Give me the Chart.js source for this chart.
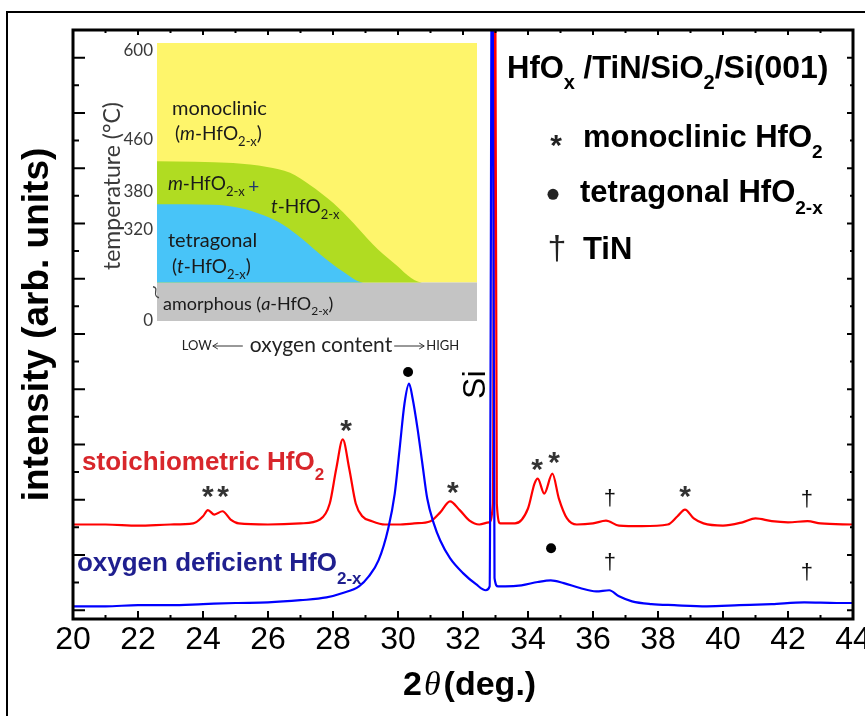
<!DOCTYPE html>
<html>
<head>
<meta charset="utf-8">
<script src="https://cdn.jsdelivr.net/npm/chart.js@4.4.1/dist/chart.umd.min.js"></script>
<style>
html, body { margin: 0; padding: 0; background: #fff; overflow: hidden; width: 865px; height: 716px; }
#wrap { position: relative; width: 865px; height: 716px; overflow: hidden; }
#main { position: absolute; left: 0; top: 0; }
#inset { position: absolute; left: 90px; top: 30px; }
</style>
</head>
<body>
<div id="wrap">
  <canvas id="main" width="880" height="716"></canvas>
  <canvas id="inset" width="400" height="335"></canvas>
</div>
<script>
// XRD scans, 2theta (deg) vs intensity (arb. units, offset traces)
var stoichX = [20, 21, 22, 23, 23.7, 24.0, 24.15, 24.35, 24.6, 24.85, 25.1, 26, 27, 27.6, 27.9, 28.1, 28.3, 28.5, 28.7, 28.9,
  29.2, 29.6, 30, 30.5, 31.0, 31.3, 31.6, 31.9, 32.2, 32.5, 32.8, 32.92, 32.98, 33.04, 33.15, 33.6, 34.0, 34.2, 34.3, 34.5,
  34.75, 34.95, 35.2, 35.5, 36, 36.4, 36.8, 37.5, 38.3, 38.6, 38.83, 39.1, 39.4, 40, 40.6, 41.0, 41.5, 42, 42.6, 43, 44];
var stoichY = [1.55, 1.55, 1.53, 1.55, 1.57, 1.70, 1.81, 1.73, 1.79, 1.64, 1.57, 1.55, 1.57, 1.64, 1.93, 2.56, 3.09, 2.56, 1.93, 1.70,
  1.61, 1.55, 1.55, 1.57, 1.61, 1.77, 1.97, 1.81, 1.62, 1.55, 1.59, 1.93, 14, 1.93, 1.57, 1.57, 1.84, 2.29, 2.38, 2.11,
  2.47, 2.02, 1.66, 1.55, 1.57, 1.62, 1.53, 1.52, 1.55, 1.70, 1.82, 1.66, 1.57, 1.53, 1.59, 1.66, 1.61, 1.59, 1.61, 1.57, 1.55];

var deficientX = [20, 21, 22, 23, 24, 25, 26, 27, 27.8, 28.3, 28.8, 29.1, 29.4, 29.7, 29.9, 30.05, 30.2, 30.34, 30.45, 30.6,
  30.75, 30.9, 31.1, 31.3, 31.6, 32.0, 32.4, 32.7, 32.82, 32.9, 32.97, 33.08, 33.3, 33.8, 34.3, 34.7, 35.1, 35.6, 36.1, 36.5,
  36.8, 37.2, 37.8, 38.5, 39.5, 40.5, 41.5, 42.5, 43.5, 44];
var deficientY = [0.07, 0.07, 0.09, 0.09, 0.11, 0.13, 0.14, 0.18, 0.23, 0.31, 0.43, 0.61, 0.90, 1.48, 2.11, 2.92, 3.74, 4.10, 3.83, 3.29,
  2.65, 2.02, 1.57, 1.26, 0.94, 0.67, 0.47, 0.36, 0.43, 14, 0.58, 0.43, 0.43, 0.45, 0.51, 0.54, 0.49, 0.40, 0.34, 0.36,
  0.25, 0.16, 0.11, 0.09, 0.07, 0.09, 0.11, 0.14, 0.13, 0.13];

// peak markers [2theta, intensity]
var monoMarks = [[24.15, 2.20], [24.62, 2.20], [28.4, 3.38], [31.69, 2.26], [34.28, 2.69], [34.8, 2.80], [38.83, 2.20]];
var tinMarks = [[36.52, 2.02], [42.58, 1.99], [36.52, 0.85], [42.58, 0.67]];
var tetraMarks = [[30.31, 4.31], [34.71, 1.12]];
var siMark = [32.31, 4.08];

// inset phase diagram: oxygen content (0..1) vs temperature
var insetTempTicks = [178, 320, 380, 460, 600];
var insetTempLabels = ['0', '320', '380', '460', '600'];
var amorphousTop = 238;
var insetTop = 611;
var mixedO = [0, 0.238, 0.344, 0.416, 0.478, 0.55, 0.613, 0.675, 0.738, 0.828, 1];
var mixedT = [427, 424, 418, 409, 390, 362, 331, 297, 269, 238, 238];
var tetraO = [0, 0.175, 0.259, 0.331, 0.394, 0.456, 0.519, 0.581, 0.644, 1];
var tetraT = [360, 359, 354, 343, 328, 305, 278, 255, 238, 238];

var SANS = '"Liberation Sans", Arial, sans-serif';
var LATO = 'Lato, "Open Sans", sans-serif';

function toPoints(xs, ys) {
  return xs.map(function (v, i) { return { x: v, y: ys[i] }; });
}

function rich(ctx, parts, x, y) {
  parts.forEach(function (p) {
    ctx.font = p.f;
    ctx.fillText(p.t, x, y + (p.dy || 0));
    x += ctx.measureText(p.t).width + (p.gap || 0);
  });
}

var mainDecor = {
  id: 'mainDecor',
  afterDatasetsDraw: function (chart) {
    var ctx = chart.ctx, a = chart.chartArea;
    var X = function (v) { return chart.scales.x.getPixelForValue(v); };
    var Y = function (v) { return chart.scales.y.getPixelForValue(v); };
    ctx.save();
    ctx.strokeStyle = '#000';

    // outer figure border
    ctx.lineWidth = 2;
    ctx.beginPath();
    ctx.moveTo(7, chart.height); ctx.lineTo(7, 12); ctx.lineTo(chart.width, 12);
    ctx.stroke();

    // inward ticks on all four sides
    ctx.beginPath();
    for (var v = 20; v <= 44; v++) {
      var px = X(v), maj = v % 2 === 0;
      ctx.moveTo(px, a.bottom); ctx.lineTo(px, a.bottom - (maj ? 8 : 4));
      ctx.moveTo(px, a.top); ctx.lineTo(px, a.top + (maj ? 5 : 3));
    }
    for (var w = 0; w <= 10; w += 0.5) {
      var py = Y(w), big = w % 1 === 0;
      ctx.moveTo(a.left, py); ctx.lineTo(a.left + (big ? 12 : 6), py);
      ctx.moveTo(a.right, py); ctx.lineTo(a.right - (big ? 6 : 3), py);
    }
    ctx.stroke();
    ctx.lineWidth = 3;
    ctx.strokeRect(a.left, a.top, a.width, a.height);

    // axis titles
    ctx.fillStyle = '#000';
    ctx.textBaseline = 'alphabetic';
    ctx.save();
    ctx.translate(a.left - 25, (a.top + a.bottom) / 2);
    ctx.rotate(-Math.PI / 2);
    ctx.textAlign = 'center';
    ctx.font = 'bold 37px ' + SANS;
    ctx.fillText('intensity (arb. units)', 0, 0);
    ctx.restore();

    ctx.textAlign = 'left';
    rich(ctx, [
      { t: '2', f: 'bold 34px ' + SANS, gap: 2 },
      { t: '\u03b8', f: 'italic 34px "Liberation Serif", serif', gap: 3 },
      { t: '(deg.)', f: 'bold 34px ' + SANS }
    ], 403, 695);

    // peak markers
    ctx.fillStyle = '#333';
    ctx.textAlign = 'center';
    ctx.font = 'bold 30px ' + SANS;
    monoMarks.forEach(function (m) { ctx.fillText('*', X(m[0]), Y(m[1]) + 17); });
    ctx.fillStyle = '#111';
    ctx.font = '22px ' + SANS;
    tinMarks.forEach(function (m) { ctx.fillText('\u2020', X(m[0]), Y(m[1]) + 6); });
    ctx.fillStyle = '#000';
    tetraMarks.forEach(function (m) {
      ctx.beginPath(); ctx.arc(X(m[0]), Y(m[1]), 5, 0, Math.PI * 2); ctx.fill();
    });

    // Si label (rotated)
    ctx.save();
    ctx.translate(X(siMark[0]) + 11.5, Y(siMark[1]));
    ctx.rotate(-Math.PI / 2);
    ctx.textAlign = 'center';
    ctx.font = '32px ' + SANS;
    ctx.fillText('Si', 0, 0);
    ctx.restore();

    // trace labels
    ctx.textAlign = 'left';
    ctx.fillStyle = '#d8262b';
    rich(ctx, [
      { t: 'stoichiometric HfO', f: 'bold 26px ' + SANS },
      { t: '2', f: 'bold 17px ' + SANS, dy: 10 }
    ], X(20.28), Y(2.53));
    ctx.fillStyle = '#1f1f8f';
    rich(ctx, [
      { t: 'oxygen deficient HfO', f: 'bold 26px ' + SANS },
      { t: '2-x', f: 'bold 17px ' + SANS, dy: 13 }
    ], X(20.12), Y(0.70));

    // key block, top right
    ctx.fillStyle = '#000';
    rich(ctx, [
      { t: 'HfO', f: 'bold 31px ' + SANS },
      { t: 'x', f: 'bold 20px ' + SANS, dy: 11 },
      { t: ' /TiN/SiO', f: 'bold 31px ' + SANS },
      { t: '2', f: 'bold 20px ' + SANS, dy: 11 },
      { t: '/Si(001)', f: 'bold 32px ' + SANS }
    ], X(33.354), Y(9.639));
    ctx.fillStyle = '#222';
    ctx.textAlign = 'center';
    ctx.font = 'bold 30px ' + SANS;
    ctx.fillText('*', X(34.862), Y(8.538) + 17);
    ctx.beginPath(); ctx.arc(X(34.769), Y(7.527), 5.5, 0, Math.PI * 2); ctx.fill();
    ctx.font = '34px ' + SANS;
    ctx.fillText('\u2020', X(34.892), Y(6.516) + 9);
    ctx.fillStyle = '#000';
    ctx.textAlign = 'left';
    rich(ctx, [
      { t: 'monoclinic HfO', f: 'bold 31px ' + SANS },
      { t: '2', f: 'bold 19px ' + SANS, dy: 11 }
    ], X(35.692), Y(8.375));
    rich(ctx, [
      { t: 'tetragonal HfO', f: 'bold 31px ' + SANS },
      { t: '2-x', f: 'bold 19px ' + SANS, dy: 12 }
    ], X(35.6), Y(7.383));
    rich(ctx, [{ t: 'TiN', f: 'bold 31px ' + SANS }], X(35.692), Y(6.354));
    ctx.restore();
  }
};

new Chart(document.getElementById('main'), {
  type: 'line',
  data: {
    datasets: [
      {
        label: 'oxygen deficient HfO2-x',
        data: toPoints(deficientX, deficientY),
        borderColor: '#0000ff',
        borderWidth: 2.2,
        pointRadius: 0,
        cubicInterpolationMode: 'monotone'
      },
      {
        label: 'stoichiometric HfO2',
        data: toPoints(stoichX, stoichY),
        borderColor: '#ff0000',
        borderWidth: 2.2,
        pointRadius: 0,
        cubicInterpolationMode: 'monotone'
      }
    ]
  },
  options: {
    responsive: false,
    animation: false,
    layout: { padding: { left: 73, top: 30, right: 27, bottom: 54.6 } },
    plugins: { legend: { display: false }, tooltip: { enabled: false } },
    scales: {
      x: {
        type: 'linear', min: 20, max: 44,
        grid: { display: false, drawTicks: false },
        border: { display: false },
        ticks: {
          stepSize: 2, autoSkip: false, maxRotation: 0, padding: 2, color: '#000',
          font: { family: SANS, size: 32 },
          callback: function (v) { return String(v); }
        }
      },
      y: { type: 'linear', display: false, min: -0.16, max: 10.5 }
    }
  },
  plugins: [mainDecor]
});

function arrowLine(ctx, x0, x1, y) {
  var dir = x1 > x0 ? 1 : -1;
  ctx.beginPath();
  ctx.moveTo(x0, y); ctx.lineTo(x1, y);
  ctx.moveTo(x1 - dir * 5, y - 3); ctx.lineTo(x1, y); ctx.lineTo(x1 - dir * 5, y + 3);
  ctx.stroke();
}

var insetDecor = {
  id: 'insetDecor',
  afterDatasetsDraw: function (chart) {
    var ctx = chart.ctx, a = chart.chartArea;
    var X = function (v) { return chart.scales.x.getPixelForValue(v); };
    var Y = function (v) { return chart.scales.y.getPixelForValue(v); };
    ctx.save();

    // temperature tick labels
    ctx.fillStyle = '#3a3a3a';
    ctx.font = '17px ' + LATO;
    ctx.textAlign = 'right';
    ctx.textBaseline = 'middle';
    insetTempTicks.forEach(function (t, i) { ctx.fillText(insetTempLabels[i], a.left - 4, Y(t)); });

    // axis break mark
    ctx.strokeStyle = '#444';
    ctx.lineWidth = 1.3;
    ctx.beginPath();
    var bx = a.left - 1, by = Y(222);
    ctx.moveTo(bx - 3, by - 6);
    ctx.bezierCurveTo(bx + 4, by - 5, bx - 5, by + 3, bx + 3, by + 5);
    ctx.stroke();

    // y title
    ctx.save();
    ctx.translate(a.left - 44, (a.top + a.bottom) / 2 + 4);
    ctx.rotate(-Math.PI / 2);
    ctx.textAlign = 'center';
    ctx.font = '23px ' + LATO;
    ctx.fillText('temperature (\u00b0C)', 0, 0);
    ctx.restore();

    // x title
    var cx = (a.left + a.right) / 2 + 4, ty = a.bottom + 24;
    ctx.font = '21px ' + LATO;
    var tw = ctx.measureText('oxygen content').width;
    var tx0 = cx - tw / 2;
    ctx.textAlign = 'left';
    ctx.fillStyle = '#222';
    ctx.fillText('oxygen content', tx0, ty);
    ctx.strokeStyle = '#333';
    ctx.lineWidth = 1;
    arrowLine(ctx, tx0 - 7, tx0 - 37, ty + 1);
    arrowLine(ctx, tx0 + tw + 2, tx0 + tw + 32, ty + 1);
    ctx.font = '13px ' + LATO;
    ctx.textAlign = 'right';
    ctx.fillText('LOW', tx0 - 38, ty + 1);
    ctx.textAlign = 'left';
    ctx.fillText('HIGH', tx0 + tw + 34, ty + 1);

    // region labels
    ctx.textBaseline = 'alphabetic';
    ctx.fillStyle = '#1a1a1a';
    var R = '19px ' + LATO, I = 'italic 19px ' + LATO, S = '13px ' + LATO;
    rich(ctx, [{ t: 'monoclinic', f: '20px ' + LATO }], X(0.047), Y(499));
    rich(ctx, [{ t: '(', f: R }, { t: 'm', f: I }, { t: '-HfO', f: R }, { t: '2-x', f: S, dy: 6 }, { t: ')', f: R }], X(0.056), Y(460));
    rich(ctx, [{ t: 'm', f: I }, { t: '-HfO', f: R }, { t: '2-x', f: S, dy: 6 }], X(0.034), Y(382));
    ctx.fillStyle = '#1f3570';
    ctx.textAlign = 'center';
    rich(ctx, [{ t: '+', f: R }], X(0.302), Y(377));
    ctx.textAlign = 'left';
    ctx.fillStyle = '#1a1a1a';
    rich(ctx, [{ t: 't', f: I }, { t: '-HfO', f: R }, { t: '2-x', f: S, dy: 6 }], X(0.356), Y(346));
    rich(ctx, [{ t: 'tetragonal', f: '20px ' + LATO }], X(0.034), Y(293));
    rich(ctx, [{ t: '(', f: R }, { t: 't', f: I }, { t: '-HfO', f: R }, { t: '2-x', f: S, dy: 6 }, { t: ')', f: R }], X(0.047), Y(253));
    var A = '18px ' + LATO;
    rich(ctx, [{ t: 'amorphous (', f: A }, { t: 'a', f: 'italic 18px ' + LATO }, { t: '-HfO', f: A }, { t: '2-x', f: '12px ' + LATO, dy: 5 }, { t: ')', f: A }], X(0.019), Y(195));
    ctx.restore();
  }
};

function band(label, xs, ys, color, order, fill) {
  return {
    label: label,
    data: toPoints(xs, ys),
    backgroundColor: color,
    borderColor: 'rgba(0,0,0,0)',
    borderWidth: 0,
    pointRadius: 0,
    fill: fill,
    order: order,
    cubicInterpolationMode: 'monotone'
  };
}

new Chart(document.getElementById('inset'), {
  type: 'line',
  data: {
    datasets: [
      band('monoclinic', [0, 1], [insetTop, insetTop], '#fef56b', 4, { value: amorphousTop }),
      band('amorphous', [0, 1], [amorphousTop, amorphousTop], '#c4c4c4', 3, 'start'),
      band('m + t', mixedO, mixedT, '#b0dc22', 2, { value: amorphousTop }),
      band('tetragonal', tetraO, tetraT, '#48c4f8', 1, { value: amorphousTop })
    ]
  },
  options: {
    responsive: false,
    animation: false,
    layout: { padding: { left: 67, top: 13, right: 13, bottom: 44 } },
    plugins: { legend: { display: false }, tooltip: { enabled: false } },
    scales: {
      x: { type: 'linear', display: false, min: 0, max: 1 },
      y: { type: 'linear', display: false, min: insetTempTicks[0], max: insetTop }
    }
  },
  plugins: [insetDecor]
});
</script>
</body>
</html>
